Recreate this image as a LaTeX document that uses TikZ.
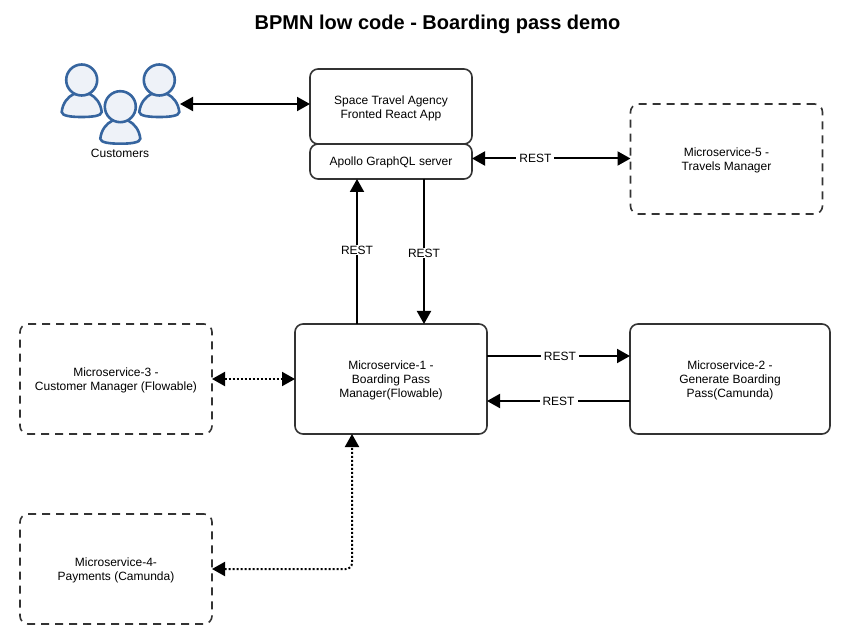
\documentclass[tikz,border=0pt]{standalone}
\usepackage{fontspec}
\setmainfont{Liberation Sans}
\usepackage{xcolor}
\usetikzlibrary{arrows.meta, positioning, calc}
\definecolor{boxline}{HTML}{333333}
\definecolor{custline}{HTML}{36659F}
\definecolor{custfill}{HTML}{EEF2F8}

\begin{document}
\begin{tikzpicture}[
  x = 1pt, y = -1pt,
  every node/.style = {font=\fontsize{12}{14}\selectfont, inner sep=0pt, outer sep=0pt},
  box/.style = {draw=boxline, line width=1.6pt, rectangle, rounded corners=8pt, minimum width=192pt, minimum height=110pt, text height=39pt, align=center},
  dashbox/.style = {box, text height=25pt, dash pattern=on 8pt off 6pt},
  appbox/.style = {box, minimum width=162pt, minimum height=75pt, text height=27pt},
  line/.style = {draw, line width=2pt, -{Triangle[length=13pt,width=14pt]}},
  bothline/.style = {line, {Triangle[length=13pt,width=14pt]}-{Triangle[length=13pt,width=14pt]}},
  dotline/.style = {bothline, dash pattern=on 2pt off 2pt},
  rest/.style = {fill=white, inner xsep=3pt, inner ysep=1pt},
  customer/.pic = {
    \draw[draw=custline, fill=custfill, line width=2.6pt] (-20,32) .. controls (-19,23) and (-14,17) .. (-8,14) -- (8,14) .. controls (14,17) and (19,23) .. (20,32) .. controls (20,36) and (10,37) .. (0,37) .. controls (-10,37) and (-20,36) .. (-20,32) -- cycle;
    \draw[draw=custline, fill=custfill, line width=2.6pt] (0,0) circle (15.5);
  }
  ]
 \useasboundingbox (0,0) rectangle (854,644);
 % Title
 \node[font=\fontsize{20}{24}\selectfont\bfseries] (title) at (437.5,24) {BPMN low code - Boarding pass demo};
 % Customers
 \pic at (81.7,80) {customer};
 \pic at (159.3,80) {customer};
 \pic at (120.3,106.7) {customer};
 \node (customers) at (120,153) {Customers};
 \coordinate (custport) at (180,104);
 % Frontend boxes
 \node[appbox] (frontend) at (391,106.5) {Space Travel Agency\\Fronted React App};
 \node[appbox, minimum height=35pt, text height=11pt, below=0pt of frontend] (apollo) {Apollo GraphQL server};
 % Microservices
 \node[box] (ms1) at (391,379) {Microservice-1 -\\Boarding Pass\\Manager(Flowable)};
 \node[box, minimum width=200pt, right=143pt of ms1] (ms2) {Microservice-2 -\\Generate Boarding\\Pass(Camunda)};
 \node[dashbox, left=83pt of ms1] (ms3) {Microservice-3 -\\Customer Manager (Flowable)};
 \node[dashbox, below=80pt of ms3] (ms4) {Microservice-4-\\Payments (Camunda)};
 \node[dashbox] (ms5) at (726.5,159) {Microservice-5 -\\Travels Manager};
 % Arrows
 \draw[bothline] (custport) -- (custport -| frontend.west);
 \draw[bothline] ([yshift=3pt]apollo.east) -- ([yshift=3pt]apollo.east -| ms5.west) node[rest, pos=0.4] (rest1) {REST};
 \draw[line] ([xshift=-34pt]ms1.north) -- ([xshift=-34pt]ms1.north |- apollo.south) node[rest, pos=0.51] (rest2) {REST};
 \draw[line] ([xshift=33pt]ms1.north |- apollo.south) -- ([xshift=33pt]ms1.north) node[rest, pos=0.51] (rest3) {REST};
 \draw[line] ([yshift=23pt]ms1.east) -- ([yshift=23pt]ms2.west) node[rest, pos=0.51] (rest4) {REST};
 \draw[line] ([yshift=-22pt]ms2.west) -- ([yshift=-22pt]ms1.east) node[rest, pos=0.5] (rest5) {REST};
 \draw[dotline] (ms3.east) -- (ms1.west);
 \draw[dotline, rounded corners=6pt] (ms4.east) -| ([xshift=-39pt]ms1.south);
\end{tikzpicture}
\end{document}
